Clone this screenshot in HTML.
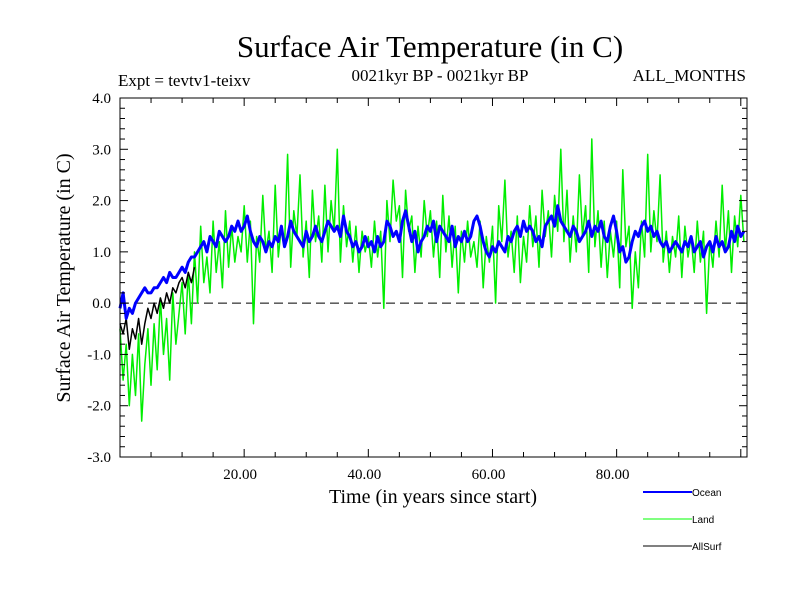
<!DOCTYPE html>
<html><head><meta charset="utf-8"><style>
body{margin:0;background:#fff}
svg text{font-family:"Liberation Serif",serif}
svg text.sans{font-family:"Liberation Sans",sans-serif}
</style></head><body>
<svg id="chart" width="800" height="600" viewBox="0 0 800 600" xmlns="http://www.w3.org/2000/svg">
<rect width="800" height="600" fill="#fff"/>
<text x="430" y="57" font-size="31" text-anchor="middle">Surface Air Temperature (in C)</text>
<text x="118" y="86" font-size="17">Expt = tevtv1-teixv</text>
<text x="440" y="81" font-size="17" text-anchor="middle">0021kyr BP - 0021kyr BP</text>
<text x="746" y="81" font-size="17" text-anchor="end">ALL_MONTHS</text>
<text transform="translate(70,278) rotate(-90)" font-size="20" text-anchor="middle">Surface Air Temperature (in C)</text>
<text x="433" y="503" font-size="20" text-anchor="middle">Time (in years since start)</text>
<g id="plot"></g>
<g id="legend">
<line x1="643" y1="492" x2="692" y2="492" stroke="#0000ff" stroke-width="2"/>
<text class="sans" x="692" y="496" font-size="10">Ocean</text>
<line x1="643" y1="519" x2="692" y2="519" stroke="#00ff00" stroke-width="1"/>
<text class="sans" x="692" y="523" font-size="10">Land</text>
<line x1="643" y1="546" x2="692" y2="546" stroke="#000" stroke-width="1"/>
<text class="sans" x="692" y="550" font-size="10">AllSurf</text>
</g>
</svg>
<script>
const step = 0.5;
const xTicks = [20, 40, 60, 80];
const xTickLabels = ["20.00", "40.00", "60.00", "80.00"];
const yTicks = [4, 3, 2, 1, 0, -1, -2, -3];
const yTickLabels = ["4.0", "3.0", "2.0", "1.0", "0.0", "-1.0", "-2.0", "-3.0"];
const ocean = [-0.1,0.2,-0.3,-0.1,-0.2,0.0,0.1,0.2,0.3,0.2,0.2,0.3,0.3,0.4,0.5,0.4,0.6,0.5,0.5,0.6,
0.7,0.6,0.8,0.9,0.9,1.0,1.1,1.2,1.0,1.3,1.2,1.1,1.4,1.3,1.2,1.3,1.5,1.4,1.6,1.4,
1.5,1.7,1.4,1.2,1.1,1.3,1.2,1.0,1.2,1.1,1.3,1.2,1.5,1.1,1.3,1.6,1.4,1.3,1.2,1.1,
1.4,1.2,1.3,1.5,1.3,1.2,1.4,1.6,1.5,1.4,1.5,1.3,1.7,1.4,1.3,1.1,1.2,1.0,1.1,1.3,
1.1,1.2,1.0,1.3,1.1,1.2,1.6,1.5,1.3,1.4,1.2,1.6,1.8,1.5,1.2,1.4,1.0,1.2,1.3,1.5,
1.4,1.6,1.2,1.5,1.4,1.3,1.2,1.5,1.1,1.3,1.2,1.4,1.2,1.3,1.6,1.7,1.5,1.2,1.0,0.9,
1.1,1.0,1.2,1.1,1.0,1.3,1.2,1.4,1.5,1.3,1.6,1.4,1.5,1.4,1.2,1.3,1.1,1.5,1.6,1.7,
1.5,1.9,1.6,1.5,1.4,1.3,1.5,1.4,1.2,1.3,1.4,1.6,1.3,1.5,1.4,1.6,1.3,1.2,1.5,1.7,
1.4,1.0,1.1,0.8,0.9,1.2,1.4,1.3,1.5,1.6,1.4,1.5,1.3,1.4,1.2,1.1,1.2,1.0,1.1,1.2,
1.1,1.0,1.2,1.1,1.3,1.0,1.1,1.2,0.9,1.1,1.2,1.0,1.3,1.1,1.2,1.0,1.1,1.4,1.2,1.5,1.3,1.4];
const land = [-0.5,-1.5,-0.8,-2.0,-1.0,-1.8,-0.6,-2.3,-1.2,-0.5,-1.6,-0.4,-1.3,0.1,-1.0,-0.3,-1.5,0.2,-0.8,-0.2,
0.4,-0.6,0.6,-0.4,1.0,0.0,1.5,0.4,0.9,0.2,1.6,0.6,1.2,0.3,1.8,0.7,1.5,0.8,1.3,1.0,
1.9,0.8,1.6,-0.4,1.3,0.8,2.1,1.0,1.4,0.6,2.3,0.9,1.5,1.1,2.9,0.7,1.8,1.3,2.5,0.9,
1.6,0.5,2.2,1.2,1.7,0.8,2.3,1.0,2.0,1.4,3.0,0.8,1.9,1.1,1.6,0.8,1.5,0.6,1.4,1.0,
1.3,0.7,1.6,0.9,1.4,-0.1,2.0,1.2,2.4,1.6,1.9,0.5,2.2,1.4,1.7,0.6,1.5,0.9,2.0,1.3,
1.8,0.9,1.6,0.5,2.1,1.0,1.7,0.7,1.5,0.2,1.4,0.8,1.6,0.9,1.2,0.7,1.6,0.3,1.3,0.8,
1.5,0.0,1.9,1.2,2.4,0.9,1.4,0.6,1.7,0.4,1.3,0.8,1.9,1.1,1.7,0.7,2.2,1.3,1.8,0.9,
2.1,1.4,3.0,1.2,2.2,0.8,1.7,1.0,2.5,1.3,1.9,0.6,3.2,1.1,1.8,0.7,1.6,0.5,1.4,0.9,
1.6,0.3,2.6,1.1,1.5,-0.1,1.0,0.3,1.6,0.9,2.9,1.0,1.8,1.2,2.5,0.8,1.4,0.6,1.3,0.9,
1.7,0.5,1.5,0.9,1.3,0.6,1.6,0.8,1.4,-0.2,1.2,0.7,1.6,0.9,2.3,1.0,1.8,0.6,1.7,1.1,2.1,1.2];
const allSurf = [-0.4,-0.6,-0.3,-0.9,-0.5,-0.7,-0.3,-0.8,-0.4,-0.1,-0.3,0.0,-0.2,0.1,-0.1,0.2,0.0,0.3,0.2,0.4,0.5,0.3,0.6,0.4,0.7];

const L=120,R=747,T=98,B=457,XMIN=0,XMAX=101,YMIN=-3,YMAX=4;
const sx=v=>L+(v-XMIN)/(XMAX-XMIN)*(R-L);
const sy=v=>B-(v-YMIN)/(YMAX-YMIN)*(B-T);
const NS="http://www.w3.org/2000/svg";
const g=document.getElementById('plot');
function mk(tag,attrs){const e=document.createElementNS(NS,tag);for(const k in attrs)e.setAttribute(k,attrs[k]);g.appendChild(e);return e;}

let z=mk('line',{x1:L,x2:R,y1:sy(0),y2:sy(0),stroke:'#000','stroke-width':1,'stroke-dasharray':'9,5'});



function series(arr,color,w,name){
  const pts=arr.map((v,i)=>sx(i*step).toFixed(1)+','+sy(v).toFixed(1)).join(' ');
  const p=mk('polyline',{points:pts,fill:'none',stroke:color,'stroke-width':w,'stroke-linejoin':'round'});
  
  
}
series(land,'#00ee00',1.5,'land-line');
series(allSurf,'#000',1.5,'allsurf-line');
series(ocean,'#0000ff',3,'ocean-line');

let f=mk('rect',{x:L,y:T,width:R-L,height:B-T,fill:'none',stroke:'#000','stroke-width':1});



for(let v=5;v<XMAX;v+=5){
  const major=v%20===0, len=major?8:5;
  mk('line',{x1:sx(v),x2:sx(v),y1:B,y2:B-len,stroke:'#000'});
  mk('line',{x1:sx(v),x2:sx(v),y1:T,y2:T+len,stroke:'#000'});
}
xTicks.forEach((v,i)=>{
  const t=mk('text',{x:sx(v)-4,y:B+22,'font-size':15,'text-anchor':'middle'});
  t.textContent=xTickLabels[i];
  
  
});
for(let k=0;k<=35;k++){
  const v=YMIN+k*0.2; const major=k%5===0, len=major?8:5;
  mk('line',{x1:L,x2:L+len,y1:sy(v),y2:sy(v),stroke:'#000'});
  mk('line',{x1:R,x2:R-len,y1:sy(v),y2:sy(v),stroke:'#000'});
}
yTicks.forEach((v,i)=>{
  const t=mk('text',{x:111,y:sy(v)+5,'font-size':15,'text-anchor':'end'});
  t.textContent=yTickLabels[i];
  
  
});
</script>
</body></html>
